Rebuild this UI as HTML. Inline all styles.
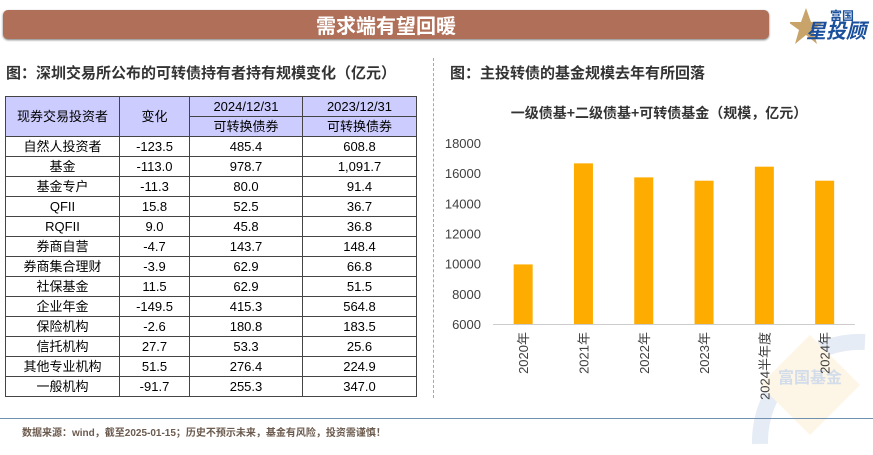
<!DOCTYPE html>
<html style="overflow:hidden;height:455px"><head><meta charset="utf-8"><style>
body{margin:0;width:873px;height:455px;background:#fff;font-family:"Liberation Sans","Noto Sans CJK SC",sans-serif;position:relative;overflow:hidden}
.abs{position:absolute}
table{border-collapse:collapse;position:absolute;left:5px;top:96px;font-size:13px;color:#000}
td{border:1px solid #444;text-align:center;height:19px;padding:0;line-height:19px}
td.h{background:#ccccff}
</style></head><body>
<svg class="abs" style="left:0;top:0" width="873" height="455">
<path d="M 760 444 A 100 100 0 0 1 865 342" fill="none" stroke="#e6ecf5" stroke-width="16"/>
<polygon points="810,335 860,385 810,435 760,385" fill="#fdf6e6"/>
<text x="778" y="383" font-size="16" font-weight="bold" fill="#d3dcea" font-family="Noto Sans CJK SC">富国基金</text>
</svg>
<div class="abs" style="left:3px;top:10px;width:766px;height:29px;background:#b06f58;border-radius:5px;box-shadow:0 1px 2px #777"></div>
<div class="abs" style="left:3px;top:10px;width:766px;height:29px;line-height:29px;text-align:center;color:#fff;font-size:20px;font-weight:bold;font-family:'Noto Sans CJK SC',sans-serif">需求端有望回暖</div>
<div class="abs" style="left:790px;top:4px;width:80px;height:40px">
<svg width="80" height="40"><polygon points="16,4 21,18 34,18 23,26 27,40 16,31 5,40 9,26 -2,18 11,18" fill="#c9a46a"/><text x="40" y="16" font-size="12" font-weight="bold" fill="#1a4f9c" font-family="Noto Sans CJK SC">富国</text><text x="16" y="34" font-size="20" font-weight="bold" font-style="italic" fill="#1a4f9c" font-family="Noto Sans CJK SC">星投顾</text></svg></div>
<div class="abs" style="left:6px;top:62px;font-size:15px;font-weight:bold;color:#333">图：深圳交易所公布的可转债持有者持有规模变化（亿元）</div>
<div class="abs" style="left:450px;top:62px;font-size:15px;font-weight:bold;color:#333">图：主投转债的基金规模去年有所回落</div>
<div class="abs" style="left:433px;top:58px;height:340px;border-left:1px dashed #9ab"></div>
<table>
<tr><td class="h" rowspan="2" style="width:113px">现券交易投资者</td><td class="h" rowspan="2" style="width:69px">变化</td><td class="h" style="width:112px">2024/12/31</td><td class="h" style="width:113px">2023/12/31</td></tr>
<tr><td class="h">可转换债券</td><td class="h">可转换债券</td></tr>
<tr><td>自然人投资者</td><td>-123.5</td><td>485.4</td><td>608.8</td></tr>
<tr><td>基金</td><td>-113.0</td><td>978.7</td><td>1,091.7</td></tr>
<tr><td>基金专户</td><td>-11.3</td><td>80.0</td><td>91.4</td></tr>
<tr><td>QFII</td><td>15.8</td><td>52.5</td><td>36.7</td></tr>
<tr><td>RQFII</td><td>9.0</td><td>45.8</td><td>36.8</td></tr>
<tr><td>券商自营</td><td>-4.7</td><td>143.7</td><td>148.4</td></tr>
<tr><td>券商集合理财</td><td>-3.9</td><td>62.9</td><td>66.8</td></tr>
<tr><td>社保基金</td><td>11.5</td><td>62.9</td><td>51.5</td></tr>
<tr><td>企业年金</td><td>-149.5</td><td>415.3</td><td>564.8</td></tr>
<tr><td>保险机构</td><td>-2.6</td><td>180.8</td><td>183.5</td></tr>
<tr><td>信托机构</td><td>27.7</td><td>53.3</td><td>25.6</td></tr>
<tr><td>其他专业机构</td><td>51.5</td><td>276.4</td><td>224.9</td></tr>
<tr><td>一般机构</td><td>-91.7</td><td>255.3</td><td>347.0</td></tr>
</table>
<svg class="abs" style="left:0;top:0" width="873" height="455" id="chart">
<text x="659" y="118" text-anchor="middle" font-size="14" font-weight="bold" fill="#333" font-family="Noto Sans CJK SC">一级债基+二级债基+可转债基金（规模，亿元）</text>
<g id="g"></g>
</svg>
<div class="abs" style="left:0;top:418px;width:873px;height:0;border-top:1px solid #7090b0"></div>
<div class="abs" style="left:22px;top:428px;font-size:10px;line-height:12px;font-weight:bold;color:#6b5a4e">数据来源：wind，截至2025-01-15；历史不预示未来，基金有风险，投资需谨慎！</div>
<script>
const categories=["2020年","2021年","2022年","2023年","2024半年度","2024年"];
const values=[9950,16650,15720,15500,16430,15500];
const ticks=[6000,8000,10000,12000,14000,16000,18000];
const g=document.getElementById('g');
const NS='http://www.w3.org/2000/svg';
const y0=324,pxPer=181/12000,x0=493,step=60.3;
const Y=v=>y0-(v-6000)*pxPer, X=i=>x0+step*(i+0.5);
function mk(t,a){const e=document.createElementNS(NS,t);for(const k in a)e.setAttribute(k,a[k]);g.appendChild(e);return e;}
ticks.forEach(t=>{const e=mk('text',{x:481,y:Y(t)+5,'text-anchor':'end','font-size':13,fill:'#404040'});e.textContent=t;

});
values.forEach((v,i)=>{const r=mk('rect',{x:X(i)-9.5,y:Y(v),width:19,height:y0-Y(v),fill:'#ffac00'});


const t=mk('text',{transform:`translate(${X(i)+5},${y0+8}) rotate(-90)`,'text-anchor':'end','font-size':13,fill:'#404040','font-family':'Liberation Sans, Noto Sans CJK SC'});t.textContent=categories[i];

});
const ax=mk('line',{x1:x0,x2:x0+step*6,y1:y0+0.5,y2:y0+0.5,stroke:'#ccc'});


</script>
</body></html>
